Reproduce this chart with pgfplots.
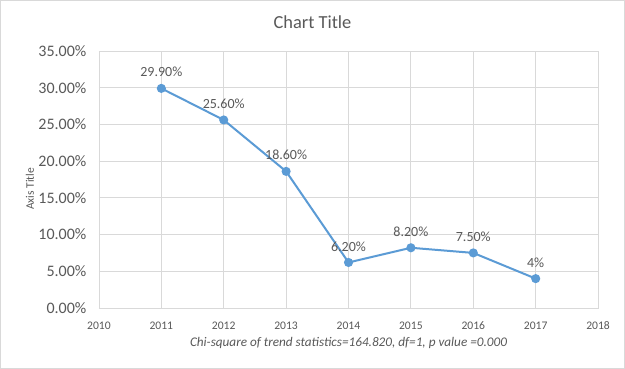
\documentclass[border=0pt]{standalone}
\usepackage{pgfplots}
\pgfplotsset{compat=1.18}
\usepackage{fontspec}
\setmainfont{Carlito}
\definecolor{txt}{HTML}{595959}
\definecolor{grd}{HTML}{D9D9D9}
\definecolor{ln}{HTML}{5B9BD5}
\begin{document}
\begin{tikzpicture}[x=1bp,y=1bp]
\draw[grd,line width=0.8bp,fill=white] (0.5,0.5) rectangle (624.5,368.5);
\node[txt,font=\fontsize{18.4bp}{20bp}\selectfont] at (312.5,347) {Chart Title};
\node[txt,font=\fontsize{11.5bp}{12bp}\selectfont,rotate=90] at (30,180) {Axis Title};
\node[txt,font=\fontsize{13.2bp}{14bp}\selectfont\itshape] at (348.5,26) {Chi-square of trend statistics=164.820, df=1, p value =0.000};
\begin{axis}[
  at={(99bp,61bp)}, anchor=south west,
  scale only axis, width=499bp, height=257bp,
  xmin=2010, xmax=2018, ymin=0, ymax=35,
  xtick={2010,...,2018}, ytick={0,5,...,35},
  grid=major, major grid style={grd,line width=0.8bp},
  axis line style={grd,line width=0.8bp},
  tick style={draw=none},
  /pgf/number format/assume math mode=true,
  xticklabel style={txt,font=\fontsize{11.6bp}{12bp}\selectfont,/pgf/number format/1000 sep={}},
  yticklabel style={txt,font=\fontsize{16bp}{18bp}\selectfont},
  yticklabel={\pgfmathprintnumber[fixed,fixed zerofill,precision=2]{\tick}\%},
  xticklabel={\pgfmathprintnumber[/pgf/number format/1000 sep={}]{\tick}},
  xtick align=outside,
  every x tick label/.append style={yshift=-6bp},
  every y tick label/.append style={xshift=-9bp},
  point meta=explicit symbolic,
  nodes near coords={\pgfplotspointmeta},
  nodes near coords style={txt,font=\fontsize{14bp}{16bp}\selectfont,anchor=south,yshift=7bp},
]
\addplot[ln,line width=2bp,mark=*,mark size=3.5bp,mark options={fill=ln,draw=ln}] coordinates {
  (2011,29.9) [29.90\%]
  (2012,25.6) [25.60\%]
  (2013,18.6) [18.60\%]
  (2014,6.2) [6.20\%]
  (2015,8.2) [8.20\%]
  (2016,7.5) [7.50\%]
  (2017,4.0) [4\%]
};
\end{axis}
\end{tikzpicture}
\end{document}
